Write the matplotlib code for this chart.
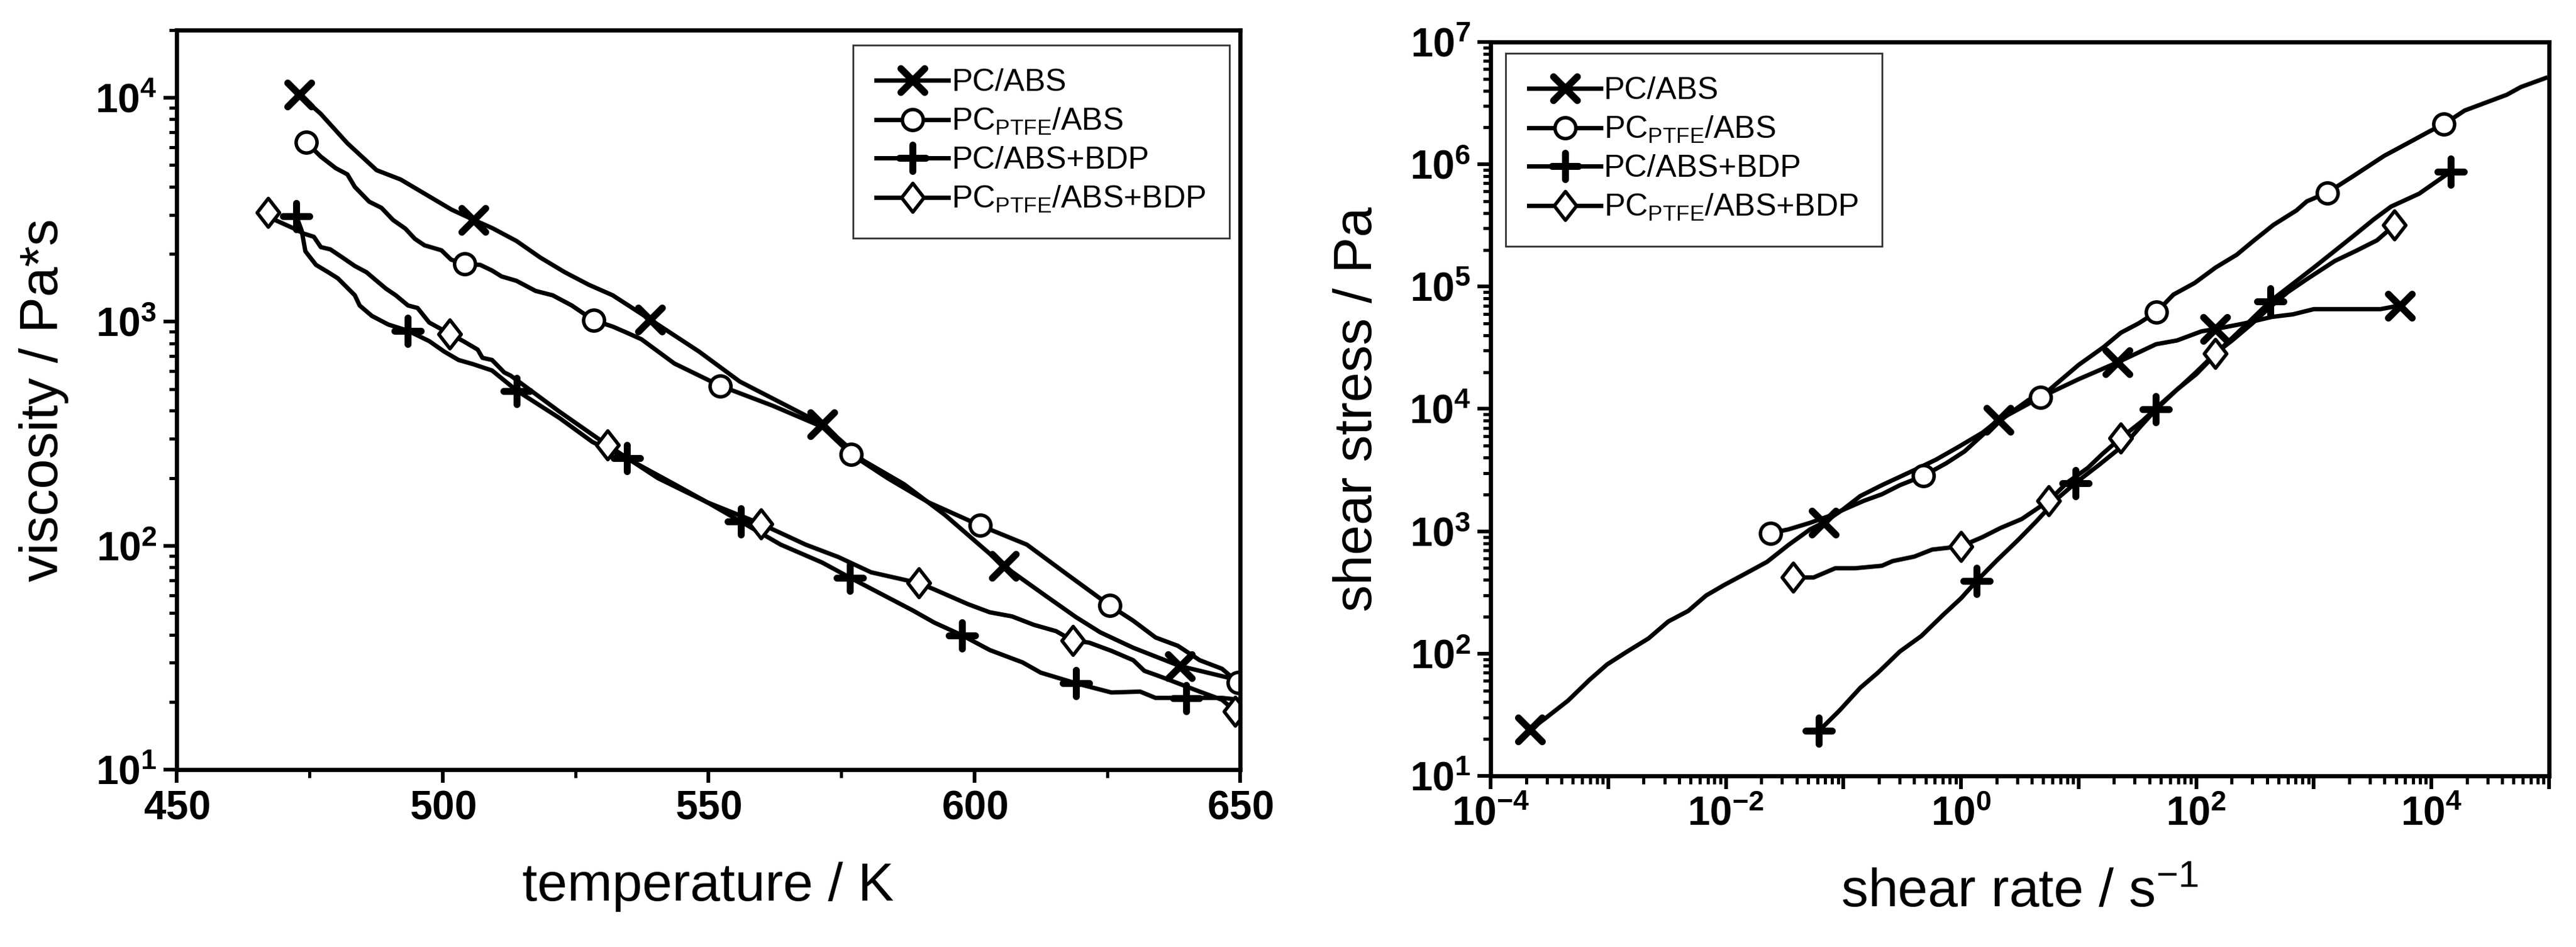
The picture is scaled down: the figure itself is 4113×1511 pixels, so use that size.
import numpy as np
import matplotlib
matplotlib.use("Agg")
import matplotlib.pyplot as plt
from matplotlib.markers import MarkerStyle
from matplotlib.path import Path
from matplotlib.ticker import FuncFormatter, LogLocator, MultipleLocator, NullFormatter

plt.rcParams['font.family'] = ['Liberation Sans', 'DejaVu Sans']
plt.rcParams['mathtext.fontset'] = 'custom'
plt.rcParams['mathtext.rm'] = 'Liberation Sans'
plt.rcParams['mathtext.it'] = 'Liberation Sans:italic'
plt.rcParams['mathtext.bf'] = 'Liberation Sans:bold'

# ---- left panel: viscosity vs temperature ----
T_pcabs = [473.1, 477.1, 482.1, 487.6, 492.1, 496.0, 501.7, 505.8, 509.4, 513.9, 518.4, 523.0,
           527.5, 532.0, 539.0, 548.2, 555.9, 571.4, 579.1, 586.8, 594.5, 605.6, 613.3, 619.1,
           623.7, 629.9, 638.7, 650.0]
eta_pcabs = [10300, 8450, 6250, 4740, 4310, 3800, 3160, 2850, 2610, 2290, 1930, 1660,
             1460, 1310, 1023, 736, 540, 349, 240, 188, 137, 81, 60, 48,
             41, 35, 29, 25]
mk_pcabs = [0, 7, 14, 17, 21, 26]

T_ptfe = [474.4, 477.1, 479.9, 482.1, 483.5, 486.2, 488.5, 490.7, 493.0, 494.8, 496.6, 499.8,
          501.6, 504.2, 507.1, 509.3, 511.1, 513.9, 517.5, 520.7, 524.3, 528.4, 532.0, 534.7,
          537.4, 543.6, 552.2, 562.1, 571.4, 576.8, 583.7, 591.4, 601.1, 609.9, 617.6, 625.5,
          629.9, 634.1, 638.3, 642.4, 646.6, 649.6]
eta_ptfe = [6300, 5450, 4840, 4540, 3990, 3430, 3220, 2840, 2600, 2340, 2190, 2080,
            1890, 1810, 1790, 1690, 1590, 1520, 1370, 1310, 1180, 1014, 950, 891,
            834, 650, 517, 421, 339, 256, 200, 156, 123, 101, 74, 54,
            46.2, 38.9, 35.7, 30.8, 28.2, 24.5]
mk_ptfe = [0, 13, 21, 26, 29, 32, 35, 41]

T_bdp = [472.5, 473.5, 474.2, 476.2, 478.5, 480.3, 483.5, 484.4, 486.7, 489.8, 493.5, 497.5,
         500.3, 503.0, 505.7, 509.3, 514.0, 522.0, 528.2, 534.7, 543.6, 549.8, 556.1, 563.6,
         571.4, 576.6, 588.4, 592.5, 597.7, 602.9, 609.1, 612.5, 619.1, 625.8, 631.2, 634.1,
         639.9, 646.6, 650.0]
eta_bdp = [2960, 2550, 2060, 1790, 1660, 1560, 1310, 1180, 1060, 970, 910, 818,
           735, 674, 646, 605, 491, 371, 290, 245, 188, 156, 128, 101,
           84, 72, 51.4, 45.3, 39.8, 34.2, 30.1, 27.1, 24.3, 22.1, 22.3, 20.9,
           20.9, 20.9, 20.5]
mk_bdp = [0, 10, 16, 19, 22, 25, 28, 32, 36]

T_ptfebdp = [467.2, 468.5, 472.1, 473.9, 475.8, 477.1, 478.9, 481.2, 483.5, 485.7, 487.6, 489.4,
             491.2, 493.5, 495.3, 497.5, 501.4, 503.9, 506.6, 507.5, 509.3, 511.6, 512.8, 522.0,
             531.0, 540.5, 549.8, 559.9, 568.3, 574.4, 580.6, 589.6, 592.5, 598.8, 602.9, 607.1,
             611.2, 615.4, 618.5, 621.6, 625.8, 629.9, 632.0, 634.1, 636.2, 642.4, 646.6, 649.1]
eta_ptfebdp = [3060, 2840, 2600, 2470, 2390, 2150, 2100, 1930, 1770, 1660, 1520, 1400,
               1310, 1180, 1150, 990, 881, 818, 750, 689, 674, 593, 574, 396,
               281, 200, 156, 125, 101, 89, 76, 68, 63.7, 54.8, 50.4, 48.3,
               44.3, 41.5, 37.7, 36.9, 33.9, 30.8, 27.6, 26.5, 25.4, 22.3, 20.5, 18.2]
mk_ptfebdp = [0, 16, 24, 27, 31, 38, 47]

# ---- right panel: shear stress vs shear rate ----
g_pcabs = [2.17e-4, 2.87e-4, 4.54e-4, 6.92e-4, 9.8e-4, 1.45e-3, 2.2e-3, 3.24e-3, 4.78e-3, 6.78e-3,
           9.6e-3, 0.0147, 0.0224, 0.0341, 0.052, 0.068, 0.098, 0.139, 0.212, 0.40, 0.61, 0.93,
           1.52, 2.08, 4.7, 10.0, 21.4, 45.5, 68.7, 111, 146, 254, 440, 664, 1000, 3690, 5380]
tau_pcabs = [24, 29.2, 41.2, 61, 81.7, 104, 133, 183, 223, 298,
             362, 451, 562, 773, 1036, 1180, 1495, 1940, 2380, 3160, 3840, 4830,
             6390, 8100, 12400, 17500, 24000, 33800, 36300, 43100, 45000, 49900, 56500, 59300,
             65400, 65400, 70000]
mk2_pcabs = [0, 15, 23, 26, 30, 36]

g_ptfe = [0.024, 0.0341, 0.052, 0.074, 0.105, 0.149, 0.212, 0.302, 0.476, 0.75, 1.07, 1.63,
          2.48, 3.78, 4.72, 10.0, 16.3, 22.9, 32.3, 46, 64, 97, 146, 221, 311, 455, 711, 873,
          1300, 2130, 3960, 6400, 9660, 12700, 19200, 29000, 43800, 57700, 93500]
tau_ptfe = [964, 1036, 1172, 1322, 1532, 1774, 2005, 2380, 2830, 3600, 4490, 6490,
            8910, 11900, 12400, 22900, 32000, 42000, 50000, 62000, 86000, 107000, 143000,
            182000, 239000, 320000, 419000, 498000, 585000, 792000, 1.17e6, 1.5e6, 1.86e6,
            2.12e6, 2.75e6, 3.19e6, 3.7e6, 4.28e6, 5.07e6]
mk2_ptfe = [0, 8, 14, 19, 28, 33]

g_bdp = [0.062, 0.0914, 0.139, 0.198, 0.302, 0.459, 0.70, 1.0, 1.35, 2.01, 3.07, 4.35, 6.64,
         9.4, 15, 25, 35, 45.5, 68.7, 100, 168, 272, 425, 1000, 1510, 2290, 3220, 4540, 7870,
         14600]
tau_bdp = [23.4, 33.8, 52.5, 70.3, 104, 139, 206, 283, 390, 576, 852, 1200, 1860,
           2480, 3500, 5200, 7500, 9900, 14400, 19200, 32100, 49900, 75700, 143000, 196000,
           270000, 353000, 451000, 575000, 870000]
mk2_bdp = [0, 8, 13, 17, 22, 29]

g_ptfebdp = [0.0374, 0.0558, 0.0851, 0.125, 0.212, 0.262, 0.40, 0.568, 1.0, 1.52, 2.16, 3.29,
             5.57, 8, 12, 16, 22.9, 35, 50, 75, 100, 146, 200, 300, 425, 600, 873, 1510, 2290,
             3450, 4860]
tau_ptfebdp = [419, 419, 498, 498, 522, 570, 620, 708, 753, 895, 1062, 1260,
               1775, 2500, 3300, 4300, 5800, 8000, 11000, 15500, 20000, 28500, 36000, 50000,
               68000, 90000, 115000, 162000, 196000, 239000, 318000]
mk2_ptfebdp = [0, 8, 12, 16, 21, 30]

labels = ['PC/ABS', r'PC$_{\mathrm{PTFE}}$/ABS', 'PC/ABS+BDP', r'PC$_{\mathrm{PTFE}}$/ABS+BDP']

# marker styles
diamond = Path([(0, 1), (0.78, 0), (0, -1), (-0.78, 0), (0, 1)], closed=True)
styles = [
    dict(marker=MarkerStyle('x', capstyle='round'), ms=27, mew=8, mfc='none'),
    dict(marker='o', ms=24, mew=4, mfc='white'),
    dict(marker=MarkerStyle('+', capstyle='round'), ms=30, mew=8, mfc='none'),
    dict(marker=MarkerStyle(diamond, joinstyle='miter'), ms=33, mew=4, mfc='white'),
]
LW = 5.0


def pow10(v, pos):
    e = int(round(np.log10(v)))
    return r'$\mathbf{10^{%d}}$' % e


def pow10_even(v, pos):
    e = int(round(np.log10(v)))
    if e % 2:
        return ''
    return r'$\mathbf{10^{%d}}$' % e


def style_axes(ax):
    for s in ax.spines.values():
        s.set_linewidth(4.8)
    ax.tick_params(which='major', direction='out', length=15, width=4.2, labelsize=46, pad=8)
    ax.tick_params(which='minor', direction='out', length=9, width=3.6)


fig = plt.figure(figsize=(41.13, 15.11), dpi=100)
ax1 = fig.add_axes([0.0686, 0.1873, 0.4128, 0.7809])
ax2 = fig.add_axes([0.5787, 0.1807, 0.4108, 0.7750])

left_sets = [(T_pcabs, eta_pcabs, mk_pcabs), (T_ptfe, eta_ptfe, mk_ptfe),
             (T_bdp, eta_bdp, mk_bdp), (T_ptfebdp, eta_ptfebdp, mk_ptfebdp)]
for (x, y, m), st, lab in zip(left_sets, styles, labels):
    ax1.plot(x, y, color='black', lw=LW, mec='black', markevery=m, label=lab, **st)

ax1.set_yscale('log')
ax1.set_xlim(450, 650)
ax1.set_ylim(10, 2e4)
ax1.xaxis.set_major_locator(MultipleLocator(50))
ax1.xaxis.set_minor_locator(MultipleLocator(25))
ax1.xaxis.set_major_formatter(FuncFormatter(lambda v, p: r'$\mathbf{%d}$' % v))
ax1.yaxis.set_major_locator(LogLocator(base=10, numticks=10))
ax1.yaxis.set_minor_locator(LogLocator(base=10, subs=np.arange(2, 10), numticks=10))
ax1.yaxis.set_major_formatter(FuncFormatter(pow10))
ax1.yaxis.set_minor_formatter(NullFormatter())
style_axes(ax1)
ax1.set_xlabel('temperature / K', fontsize=62, labelpad=40)
ax1.set_ylabel('viscosity / Pa*s', fontsize=62, labelpad=30)
leg1 = ax1.legend(loc='upper right', bbox_to_anchor=(0.990, 0.980), fontsize=36,
                  frameon=True, fancybox=False, edgecolor='black', handlelength=2.3,
                  handletextpad=0.1, labelspacing=0.3, borderpad=0.75, borderaxespad=0)
leg1.get_frame().set_linewidth(2.0)

right_sets = [(g_pcabs, tau_pcabs, mk2_pcabs), (g_ptfe, tau_ptfe, mk2_ptfe),
              (g_bdp, tau_bdp, mk2_bdp), (g_ptfebdp, tau_ptfebdp, mk2_ptfebdp)]
for (x, y, m), st, lab in zip(right_sets, styles, labels):
    ax2.plot(x, y, color='black', lw=LW, mec='black', markevery=m, label=lab, **st)

ax2.set_xscale('log')
ax2.set_yscale('log')
ax2.set_xlim(1e-4, 1e5)
ax2.set_ylim(10, 1e7)
ax2.xaxis.set_major_locator(LogLocator(base=10, numticks=20))
ax2.xaxis.set_minor_locator(LogLocator(base=10, subs=np.arange(2, 10), numticks=20))
ax2.xaxis.set_major_formatter(FuncFormatter(pow10_even))
ax2.xaxis.set_minor_formatter(NullFormatter())
ax2.yaxis.set_major_locator(LogLocator(base=10, numticks=20))
ax2.yaxis.set_minor_locator(LogLocator(base=10, subs=np.arange(2, 10), numticks=20))
ax2.yaxis.set_major_formatter(FuncFormatter(pow10))
ax2.yaxis.set_minor_formatter(NullFormatter())
style_axes(ax2)
ax2.set_xlabel(r'shear rate / s$^{\mathrm{-1}}$', fontsize=62, labelpad=40)
ax2.set_ylabel('shear stress / Pa', fontsize=62, labelpad=30)
leg2 = ax2.legend(loc='upper left', bbox_to_anchor=(0.014, 0.985), fontsize=36,
                  frameon=True, fancybox=False, edgecolor='black', handlelength=2.3,
                  handletextpad=0.1, labelspacing=0.3, borderpad=0.75, borderaxespad=0)
leg2.get_frame().set_linewidth(2.0)

fig.savefig('out.png', dpi=100)
